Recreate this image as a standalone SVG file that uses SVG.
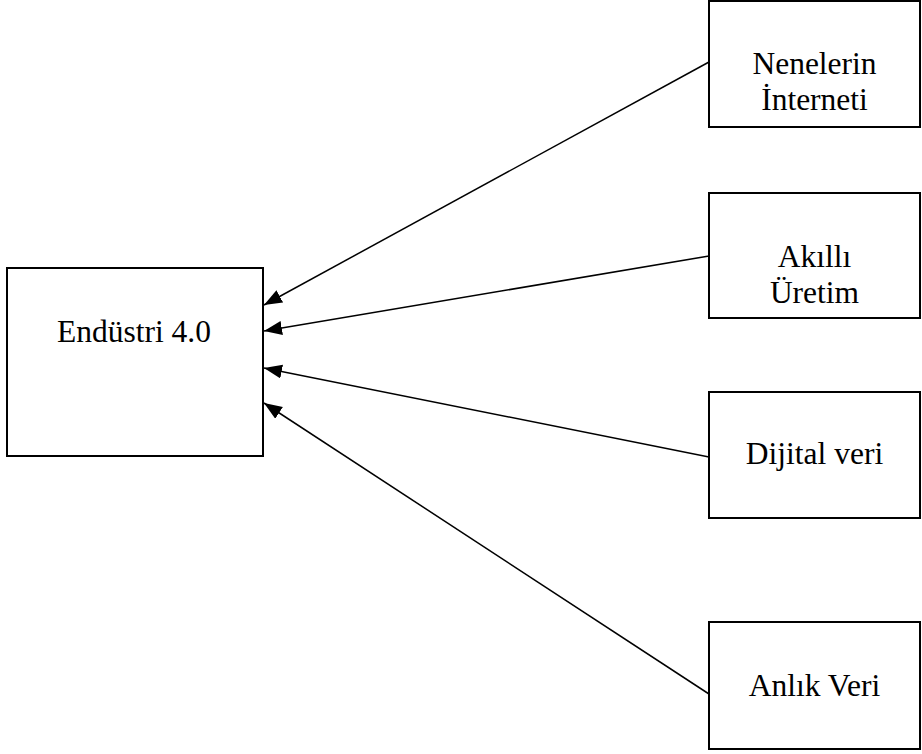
<svg xmlns="http://www.w3.org/2000/svg" width="922" height="754" viewBox="0 0 922 754">
<style>
.box{fill:#fff;stroke:#000;stroke-width:2}
.t{font-family:"Liberation Serif","Times New Roman",serif;font-size:31.5px;fill:#000;text-anchor:middle}
.c{stroke:#000;stroke-width:1.5;fill:none;marker-end:url(#ah)}
</style>
<defs>
<marker id="ah" markerUnits="userSpaceOnUse" markerWidth="20" markerHeight="16" refX="18" refY="7" orient="auto">
<path d="M0,0 L18,7 L0,14 Z" fill="#000"/>
</marker>
</defs>
<rect width="922" height="754" fill="#fff"/>
<g id="endustri">
<rect class="box" x="7" y="268" width="256" height="188"/>
<text class="t" x="134" y="342">Endüstri 4.0</text>
</g>
<g id="nenelerin">
<rect class="box" x="709" y="1" width="211" height="126"/>
<text class="t" x="814.5" y="74">Nenelerin</text>
<text class="t" x="814.5" y="110">İnterneti</text>
</g>
<g id="akilli">
<rect class="box" x="709" y="193" width="211" height="125"/>
<text class="t" x="814.5" y="267">Akıllı</text>
<text class="t" x="814.5" y="303">Üretim</text>
</g>
<g id="dijital">
<rect class="box" x="709" y="392" width="211" height="126"/>
<text class="t" x="814.5" y="464">Dijital veri</text>
</g>
<g id="anlik">
<rect class="box" x="709" y="622" width="211" height="127"/>
<text class="t" x="814.5" y="696">Anlık Veri</text>
</g>
<g id="connectors">
<line class="c" x1="709" y1="62" x2="264" y2="305"/>
<line class="c" x1="709" y1="256" x2="264" y2="331"/>
<line class="c" x1="709" y1="457" x2="264" y2="368"/>
<line class="c" x1="709" y1="694" x2="264" y2="403"/>
</g>
</svg>
